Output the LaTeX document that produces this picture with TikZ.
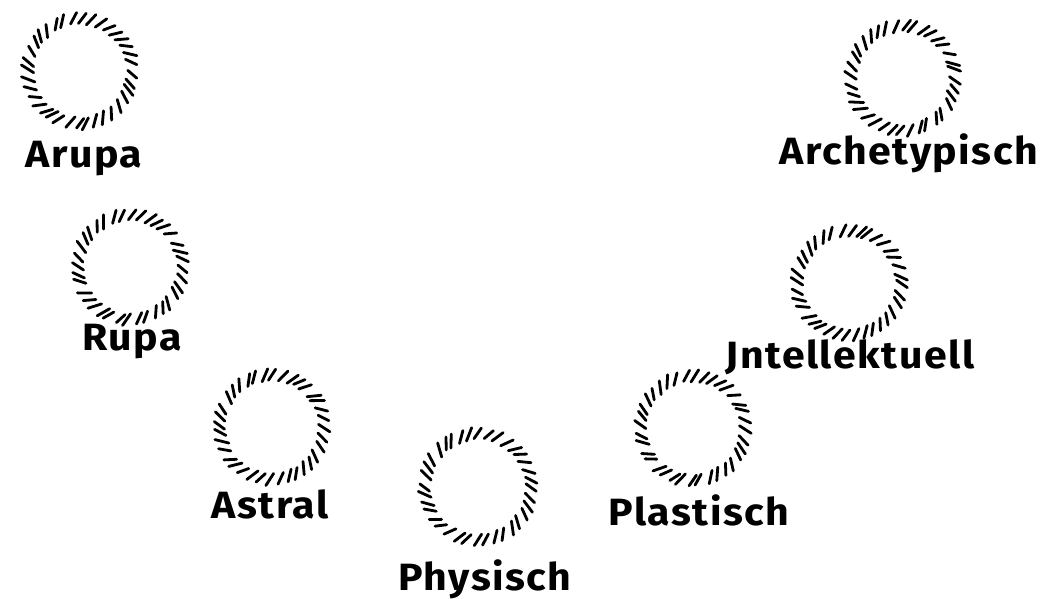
\documentclass[tikz,border=0pt]{standalone}
\usepackage{fontspec}
\setmainfont[FakeStretch=1.08,LetterSpace=4]{Fira Sans}
\usetikzlibrary{calc}
\tikzset{
  ring/.style={circle,minimum size=2*#1 pt,inner sep=0pt},
  hatch/.style={line width=2.8pt,line cap=round},
  lbl/.style={anchor=base,inner sep=0pt,font=\fontsize{38}{44}\selectfont\bfseries}
}
\newcommand\hatchring[2]{%
  \foreach \a in {0,10,...,350}{%
    \pgfmathsetmacro\ri{#2-6+rnd*2}%
    \pgfmathsetmacro\ro{#2+5+rnd*2}%
    \pgfmathsetmacro\aa{\a+rnd*5}%
    \draw[hatch] ($(#1.center)+(\aa:\ri pt)$) -- ($(#1.center)+(\aa-8:\ro pt)$);
  }}
\begin{document}
\begin{tikzpicture}[x=1pt,y=-1pt]
\pgfmathsetseed{7}
\useasboundingbox (0,0) rectangle (1046,599);
\node[ring=52] (c1) at (80,71) {};
\node[ring=52] (c2) at (903,78) {};
\node[ring=52] (c3) at (130,267) {};
\node[ring=52] (c4) at (849,283) {};
\node[ring=52] (c5) at (272,427) {};
\node[ring=53] (c6) at (478,487) {};
\node[ring=52] (c7) at (693,428) {};
\hatchring{c1}{52}
\hatchring{c2}{52}
\hatchring{c3}{52}
\hatchring{c4}{52}
\hatchring{c5}{52}
\hatchring{c6}{53}
\hatchring{c7}{52}
\node[lbl] (l1) at (84,167) {Arupa};
\node[lbl] (l2) at (909,164) {Archetypisch};
\node[lbl] (l3) at (132,350) {Rupa};
\node[lbl] (l4) at (850,368) {Jntellektuell};
\node[lbl] (l5) at (270,518) {Astral};
\node[lbl] (l6) at (485,590) {Physisch};
\node[lbl] (l7) at (699,525) {Plastisch};
\end{tikzpicture}
\end{document}
